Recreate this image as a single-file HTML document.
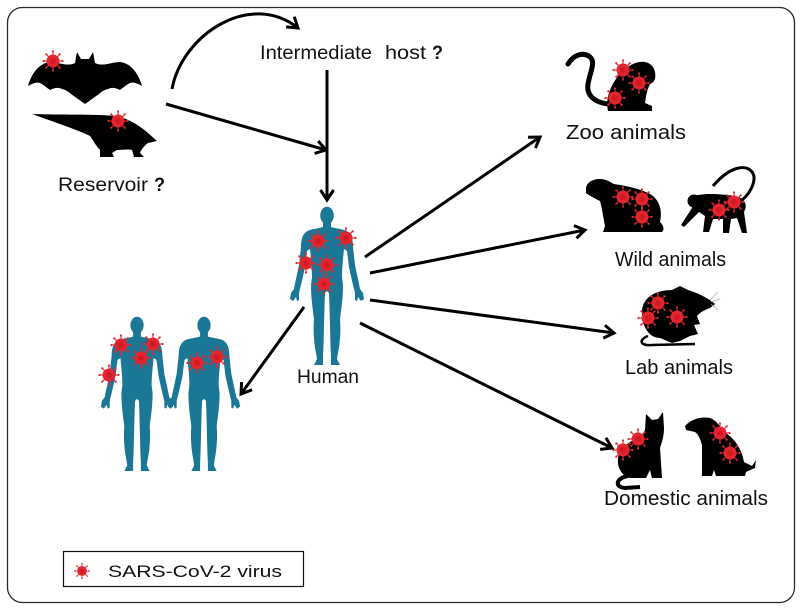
<!DOCTYPE html>
<html><head><meta charset="utf-8"><style>
html,body{margin:0;padding:0;background:#fff;}
svg{display:block;}
text{font-family:"Liberation Sans",Arial,sans-serif;fill:#111;}
</style></head><body>
<svg width="810" height="616" viewBox="0 0 810 616" xmlns="http://www.w3.org/2000/svg">
<defs>
<marker id="ah" markerUnits="userSpaceOnUse" viewBox="-14 -10 18 20" markerWidth="18" markerHeight="20" refX="0" refY="0" orient="auto" overflow="visible">
<path d="M-10,-6.5 L0,0 L-10,6.5" fill="none" stroke="#000" stroke-width="3"/>
</marker>
<g id="v">
<g stroke="#e3262e" stroke-width="1.1">
<line x1="0" y1="-6" x2="0" y2="-9"/><line x1="0" y1="6" x2="0" y2="9"/>
<line x1="-6" y1="0" x2="-9" y2="0"/><line x1="6" y1="0" x2="9" y2="0"/>
<line x1="4.2" y1="4.2" x2="6.4" y2="6.4"/><line x1="-4.2" y1="4.2" x2="-6.4" y2="6.4"/>
<line x1="4.2" y1="-4.2" x2="6.4" y2="-6.4"/><line x1="-4.2" y1="-4.2" x2="-6.4" y2="-6.4"/>
</g>
<g fill="#e3262e">
<circle cx="0" cy="-9.5" r="1.1"/><circle cx="0" cy="9.5" r="1.1"/><circle cx="-9.5" cy="0" r="1.1"/><circle cx="9.5" cy="0" r="1.1"/>
<circle cx="6.7" cy="6.7" r="1.1"/><circle cx="-6.7" cy="6.7" r="1.1"/><circle cx="6.7" cy="-6.7" r="1.1"/><circle cx="-6.7" cy="-6.7" r="1.1"/>
</g>
<circle r="6.5" fill="#e3262e"/>
<circle r="3" fill="#d01a24"/>
</g>
<g id="hum" fill="#1a7896">
<ellipse cx="0" cy="8.5" rx="6.8" ry="8.7"/>
<path d="M4,14 L4,20 C10,22 18,22 21,25 C25,28 26,34 26,40 L28,58 C30,68 32,76 33,82 L36,86 L37,92 L34,94 L31,90 L30,94 L28,93 L28,86 C26,78 24,70 22,60 L20,44 L17,42 C16,52 15,62 15,70 L16,78 C16,92 14,104 13,112 C14,124 13,136 11,146 L10,152 L13,158 L4,158 L4,150 C3,130 3,110 2,86 L0,84
L-2,86 C-3,110 -3,130 -4,150 L-4,158 L-13,158 L-10,152 L-11,146 C-13,136 -14,124 -13,112 C-14,104 -16,92 -16,78 L-15,70 C-15,62 -16,52 -17,42 L-20,44 L-22,60 C-24,70 -26,78 -28,86 L-28,93 L-30,94 L-31,90 L-34,94 L-37,92 L-36,86 L-33,82 C-32,76 -30,68 -28,58 L-26,40 C-26,34 -25,28 -21,25 C-18,22 -10,22 -4,20 L-4,14 Z"/>
</g>
</defs>

<!-- frame -->
<rect x="7.5" y="7.5" width="787" height="595" rx="15" ry="15" fill="none" stroke="#2a2a2a" stroke-width="1.3"/>

<!-- bat -->
<path fill="#000" d="M77,52 L81,59 L89,59 L93,52 L95,63 C103,67 112,62 120,62 C130,63 138,72 142,86 C137,83 133,82 130,83 C126,85 123,88 120,90 C116,88 112,87 108,89 C104,90 101,92 99,94 L85,104 L71,94 C69,92 66,90 62,89 C58,87 54,88 50,90 C47,88 44,85 40,83 C37,82 33,83 28,86 C32,72 40,63 50,62 C58,62 67,67 75,63 Z"/>
<!-- pangolin -->
<path fill="#000" d="M32,114 C60,115 95,114 115,116 C128,118 140,126 148,133 L157,141 L148,143 C144,146 141,150 140,153 L144,157 L134,157 L132,150 C128,149 122,150 117,150 L112,153 L114,157 L100,157 L100,150 C96,146 93,140 90,136 C80,131 60,124 32,114 Z"/>
<use href="#v" x="53" y="61"/>
<use href="#v" x="118" y="121"/>

<!-- humans -->
<use href="#hum" transform="translate(327,207)"/>
<use href="#hum" transform="translate(137,317) scale(0.975)"/>
<use href="#hum" transform="translate(204,317) scale(0.975)"/>
<use href="#v" x="318" y="241"/><use href="#v" x="346" y="238"/><use href="#v" x="306" y="263"/><use href="#v" x="327" y="265"/><use href="#v" x="324" y="284"/>
<use href="#v" x="121" y="345"/><use href="#v" x="153" y="344"/><use href="#v" x="141" y="358"/><use href="#v" x="109" y="375"/>
<use href="#v" x="197" y="363"/><use href="#v" x="217" y="357"/>

<!-- zoo monkey -->
<path d="M612,104 C596,104 586,96 588,84 C590,72 596,62 590,57 C584,52 574,54 568,64" fill="none" stroke="#000" stroke-width="5" stroke-linecap="round"/>
<path fill="#000" d="M640,62 C630,63 620,72 614,82 C608,92 606,102 608,111 L652,111 L652,106 L645,103 C646,96 647,90 650,84 C656,82 657,74 653,67 C650,63 645,61 640,62 Z"/>
<use href="#v" x="623" y="70"/><use href="#v" x="639" y="83"/><use href="#v" x="615" y="98"/>

<!-- ferret -->
<path fill="#000" d="M586,189 C586,183 592,179 600,179 C606,179 610,182 614,184 C628,186 645,190 653,196 C661,203 662,213 660,222 C663,225 665,229 662,232 L603,232 L605,226 C603,216 602,208 600,201 C596,199 590,196 586,193 Z"/>
<use href="#v" x="623" y="197"/><use href="#v" x="642" y="199"/><use href="#v" x="642" y="217"/>

<!-- wild monkey -->
<path d="M742,200 C752,192 757,178 752,172 C746,164 730,166 713,186" fill="none" stroke="#000" stroke-width="3"/>
<path fill="#000" d="M690,198 C700,192 720,194 735,196 C745,198 748,205 744,212 L747,233 L742,233 L737,218 L731,219 L729,233 L723,233 L723,219 L713,219 L709,232 L703,232 L705,216 L699,212 L684,227 L681,225 L692,208 Z"/>
<circle cx="694" cy="201" r="6.5" fill="#000"/>
<use href="#v" x="734" y="202"/><use href="#v" x="719" y="210"/>

<!-- mouse -->
<path d="M648,336 C638,340 640,346 652,345 L695,344" fill="none" stroke="#000" stroke-width="2.5"/>
<path fill="#000" d="M642,312 C642,298 655,290 672,290 L680,286 L688,290 C698,293 708,298 715,304 L710,308 C705,310 700,312 697,316 L700,324 L694,325 L698,334 L690,336 L680,341 L672,343 L660,338 C650,338 642,328 642,312 Z"/>
<g stroke="#aaa" stroke-width="0.8"><line x1="710" y1="300" x2="718" y2="292"/><line x1="711" y1="302" x2="720" y2="299"/><line x1="711" y1="304" x2="718" y2="310"/></g>
<use href="#v" x="658" y="303"/><use href="#v" x="648" y="318"/><use href="#v" x="677" y="317"/>

<!-- cat -->
<path d="M628,476 C616,478 614,487 625,488 L640,487" fill="none" stroke="#000" stroke-width="4"/>
<path fill="#000" d="M645,430 L646,414 L652,420 L658,419 L663,412 L664,428 C664,436 662,442 660,448 L662,478 L652,478 L650,470 L646,478 L630,478 C622,476 617,468 618,458 C620,448 630,440 640,438 Z"/>
<use href="#v" x="638" y="439"/><use href="#v" x="623" y="450"/>

<!-- dog -->
<path fill="#000" d="M685,426 C690,420 700,416 710,418 C716,420 720,426 724,432 C735,438 742,450 744,462 L752,466 L756,460 L755,468 L746,472 L745,476 L716,476 L714,470 L712,476 L702,476 L702,445 C700,438 698,434 695,432 L686,430 Z"/>
<use href="#v" x="720" y="433"/><use href="#v" x="730" y="453"/>

<!-- arrows -->
<g fill="none" stroke="#000" stroke-width="3" marker-end="url(#ah)">
<path d="M172,89 C182,35 250,-10 298,28"/>
<path d="M166,104 L326,150"/>
<path d="M327,70 L327,200"/>
<path d="M365,257 L540,137"/>
<path d="M370,273 L585,230"/>
<path d="M370,300 L614,333"/>
<path d="M360,323 L612,448"/>
<path d="M304,307 L241,394"/>
</g>

<!-- labels -->
<text x="260" y="59" font-size="19" textLength="112" lengthAdjust="spacingAndGlyphs">Intermediate</text>
<text x="385" y="59" font-size="19" textLength="41" lengthAdjust="spacingAndGlyphs">host</text>
<text x="432" y="59" font-size="19" font-weight="bold" textLength="11" lengthAdjust="spacingAndGlyphs">?</text>
<text x="58" y="191" font-size="19" textLength="90" lengthAdjust="spacingAndGlyphs">Reservoir</text>
<text x="154" y="191" font-size="19" font-weight="bold" textLength="11" lengthAdjust="spacingAndGlyphs">?</text>
<text x="297" y="383" font-size="19" textLength="62" lengthAdjust="spacingAndGlyphs">Human</text>
<text x="566" y="139" font-size="20" textLength="120" lengthAdjust="spacingAndGlyphs">Zoo animals</text>
<text x="615" y="266" font-size="20" textLength="111" lengthAdjust="spacingAndGlyphs">Wild animals</text>
<text x="625" y="374" font-size="20" textLength="108" lengthAdjust="spacingAndGlyphs">Lab animals</text>
<text x="604" y="505" font-size="20" textLength="164" lengthAdjust="spacingAndGlyphs">Domestic animals</text>

<!-- legend -->
<rect x="63.5" y="551.5" width="240" height="35" fill="#fff" stroke="#111" stroke-width="1.2"/>
<use href="#v" transform="translate(82,571) scale(0.75)"/>
<text x="108" y="577" font-size="17" textLength="174" lengthAdjust="spacingAndGlyphs">SARS-CoV-2 virus</text>
</svg>
</body></html>
